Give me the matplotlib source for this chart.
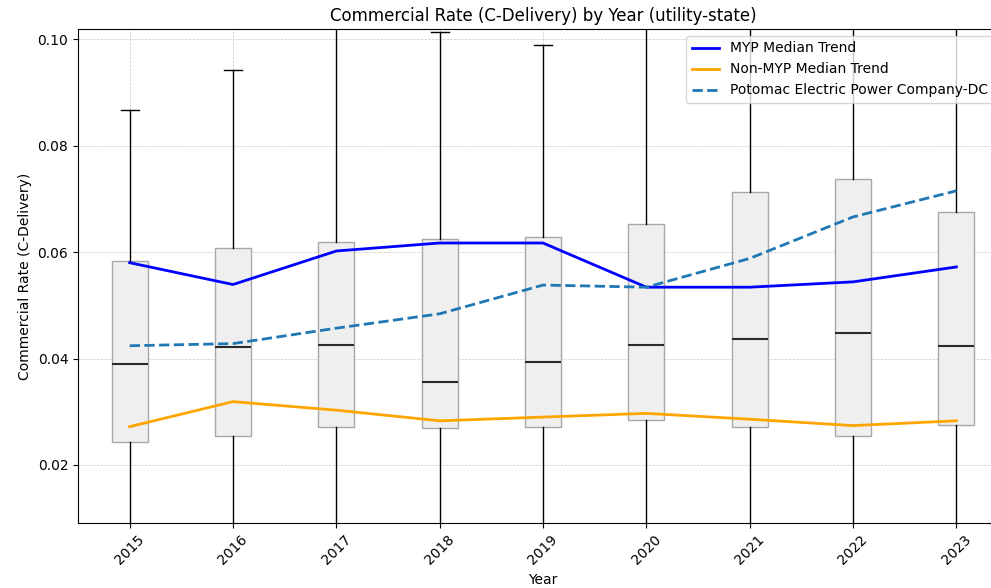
import matplotlib
matplotlib.use("Agg")
import matplotlib.pyplot as plt

years = [2015, 2016, 2017, 2018, 2019, 2020, 2021, 2022, 2023]

# box statistics
q1 = [0.0244, 0.0255, 0.0272, 0.0269, 0.0272, 0.0285, 0.0272, 0.0255, 0.0275]
q3 = [0.0583, 0.0608, 0.0619, 0.0624, 0.0628, 0.0653, 0.0713, 0.0737, 0.0676]
med = [0.0389, 0.0422, 0.0425, 0.0356, 0.0393, 0.0426, 0.0437, 0.0448, 0.0424]
whislo = [0.0, 0.0, 0.0, 0.0, 0.0, 0.0, 0.0, 0.0, 0.0]
whishi = [0.0867, 0.0942, 0.115, 0.1013, 0.0989, 0.115, 0.115, 0.115, 0.115]

myp_median = [0.0580, 0.0539, 0.0602, 0.0617, 0.0617, 0.0534, 0.0534, 0.0544, 0.0572]
non_myp_median = [0.0272, 0.0319, 0.0303, 0.0283, 0.0290, 0.0297, 0.0286, 0.0274, 0.0283]
pepco_dc = [0.0424, 0.0428, 0.0457, 0.0484, 0.0538, 0.0534, 0.0588, 0.0666, 0.0715]

stats = []
for i, y in enumerate(years):
    stats.append({'label': str(y), 'q1': q1[i], 'q3': q3[i], 'med': med[i],
                  'whislo': whislo[i], 'whishi': whishi[i], 'fliers': []})

fig = plt.figure(figsize=(9.91, 5.88), dpi=100)
# axes run past the right edge, like the cropped original
ax = fig.add_axes([0.0787, 0.1105, 0.9385, 0.8402])

pos = list(range(1, len(years) + 1))
ax.bxp(stats, positions=pos, widths=0.35, patch_artist=True, showfliers=False,
       boxprops=dict(facecolor='#efefef', edgecolor='#a8a8a8', linewidth=1),
       medianprops=dict(color='#2a2a2a', linewidth=1.5),
       whiskerprops=dict(color='black', linewidth=1),
       capprops=dict(color='black', linewidth=1))

ax.plot(pos, myp_median, color='blue', linewidth=2, label='MYP Median Trend')
ax.plot(pos, non_myp_median, color='orange', linewidth=2, label='Non-MYP Median Trend')
ax.plot(pos, pepco_dc, color='#1f77b4', linestyle='--', linewidth=2,
        label='Potomac Electric Power Company-DC')

ax.set_xlim(0.5, 9.5)
ax.set_ylim(0.0091, 0.1019)
ax.set_xticks(pos)
ax.set_xticklabels([str(y) for y in years], rotation=45)
ax.set_yticks([0.02, 0.04, 0.06, 0.08, 0.10])
ax.set_yticklabels(['0.02', '0.04', '0.06', '0.08', '0.10'])
ax.grid(True, linestyle='--', linewidth=0.5, alpha=0.7)

ax.set_title('Commercial Rate (C-Delivery) by Year (utility-state)')
ax.set_xlabel('Year')
ax.set_ylabel('Commercial Rate (C-Delivery)')
ax.legend(loc='upper right', bbox_to_anchor=(0.9925, 1.0))

fig.savefig('out.png', dpi=100)
